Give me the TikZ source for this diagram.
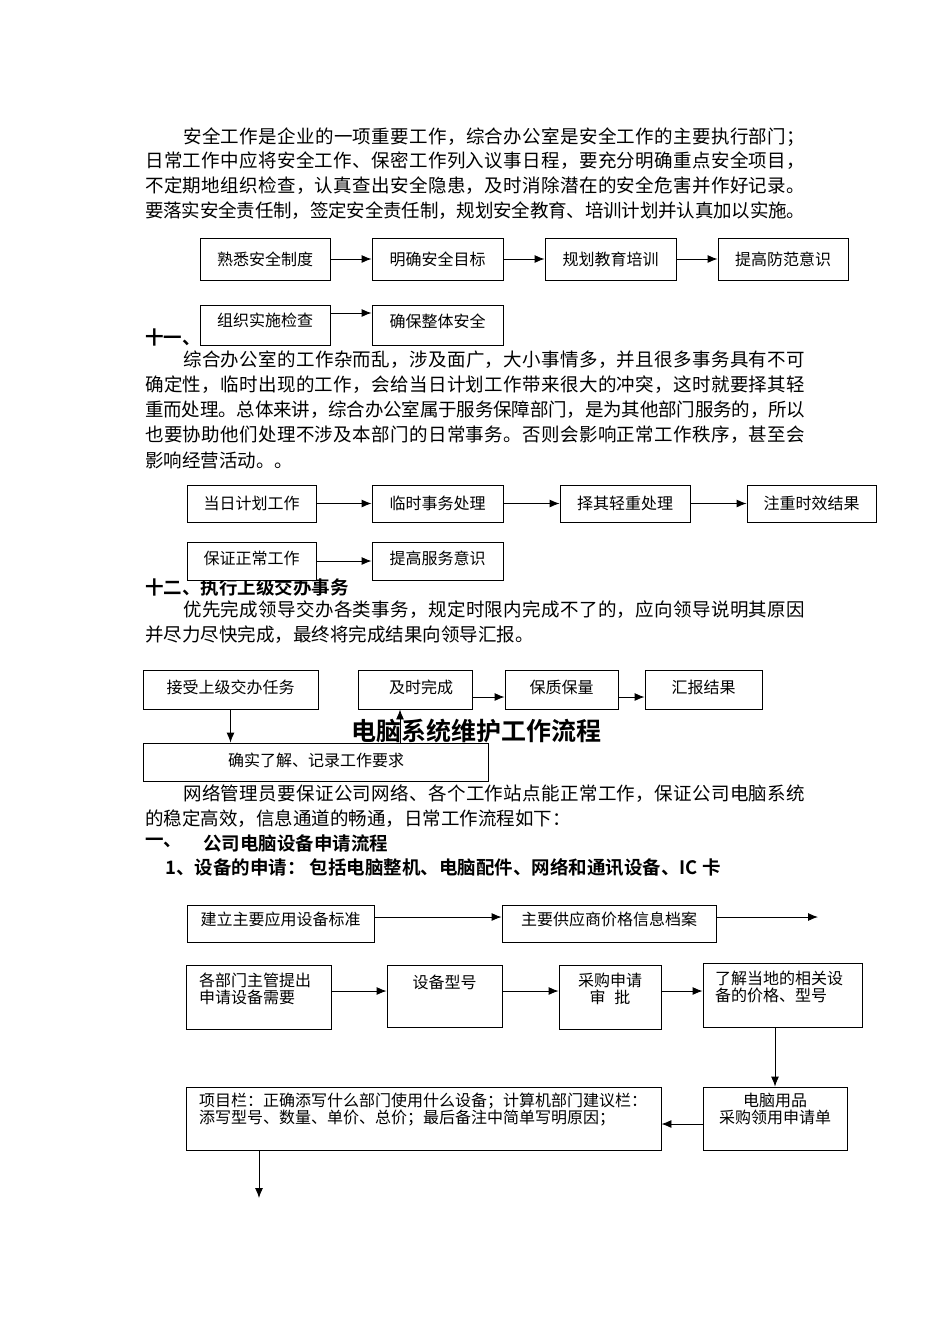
\documentclass[tikz,border=0pt]{standalone}
\usepackage{fontspec}
\setmainfont{Noto Sans CJK SC}[BoldFont={Noto Sans CJK SC Bold}]
\usetikzlibrary{arrows.meta,calc}
\XeTeXinterchartokenstate=1
\newXeTeXintercharclass\cjkcls
\count255="3000
\loop\XeTeXcharclass\count255=\cjkcls\ifnum\count255<"303F\advance\count255 1\repeat
\count255="4E00
\loop\XeTeXcharclass\count255=\cjkcls\ifnum\count255<"9FFF\advance\count255 1\repeat
\count255="FF00
\loop\XeTeXcharclass\count255=\cjkcls\ifnum\count255<"FF5E\advance\count255 1\repeat
\XeTeXinterchartoks\cjkcls\cjkcls={\hskip0pt plus 2pt minus 1.5pt}
\newcommand\jfirst[1]{\hbox to 622pt{#1}}
\newcommand\jfull[1]{\hbox to 660pt{#1}}
\tikzset{
  box/.style={draw, line width=0.9pt, fill=white, inner sep=0pt, align=center,
    font=\fontsize{16}{17}\selectfont},
  para/.style={anchor=west, inner sep=0pt, font=\fontsize{18.5}{20}\selectfont},
  head/.style={anchor=west, inner sep=0pt, font=\fontsize{18.5}{20}\selectfont\bfseries},
  lbl/.style={inner sep=0pt, font=\fontsize{16}{16.5}\selectfont},
  arr/.style={-{Latex[length=10pt,width=8pt]}, line width=0.9pt}
}
\begin{document}
\begin{tikzpicture}[x=1pt,y=-1pt]
\fill[white] (0,0) rectangle (950,1344);
\useasboundingbox (0,0) rectangle (950,1344);

% paragraph 1
\node[para] (p1a) at (183,137) {\jfirst{安全工作是企业的一项重要工作，综合办公室是安全工作的主要执行部门；}};
\node[para] (p1b) at (145,161) {\jfull{日常工作中应将安全工作、保密工作列入议事日程，要充分明确重点安全项目，}};
\node[para] (p1c) at (145,186) {\jfull{不定期地组织检查，认真查出安全隐患，及时消除潜在的安全危害并作好记录。}};
\node[para] (p1d) at (145,211) {\jfull{要落实安全责任制，签定安全责任制，规划安全教育、培训计划并认真加以实施。}};

% flow 1
\node[box, minimum width=130pt, minimum height=42pt] (f1a) at (265,259) {熟悉安全制度};
\node[box, minimum width=131pt, minimum height=42pt] (f1b) at (437.5,259) {明确安全目标};
\node[box, minimum width=131pt, minimum height=42pt] (f1c) at (610.5,259) {规划教育培训};
\node[box, minimum width=130pt, minimum height=42pt] (f1d) at (783,259) {提高防范意识};
\draw[arr] (f1a.east) -- (f1b.west);
\draw[arr] (f1b.east) -- (f1c.west);
\draw[arr] (f1c.east) -- (f1d.west);
\node[head] (h11) at (145,337) {十一、};
\node[box, minimum width=130pt, minimum height=40pt] (f1e) at (265,325) {};
\node[lbl] (f1et) at (265,320) {组织实施检查};
\node[box, minimum width=131pt, minimum height=40pt] (f1f) at (437.5,325) {};
\node[lbl] (f1ft) at (437.5,321) {确保整体安全};
\coordinate (y1f) at (0,313);
\draw[arr] (f1e.east |- y1f) -- (f1f.west |- y1f);

% paragraph 2
\node[para] (p2a) at (183,360) {\jfirst{综合办公室的工作杂而乱，涉及面广，大小事情多，并且很多事务具有不可}};
\node[para] (p2b) at (145,385) {\jfull{确定性，临时出现的工作，会给当日计划工作带来很大的冲突，这时就要择其轻}};
\node[para] (p2c) at (145,410) {\jfull{重而处理。总体来讲，综合办公室属于服务保障部门，是为其他部门服务的，所以}};
\node[para] (p2d) at (145,435) {\jfull{也要协助他们处理不涉及本部门的日常事务。否则会影响正常工作秩序，甚至会}};
\node[para] (p2e) at (145,460) {影响经营活动。。};

% flow 2
\node[box, minimum width=129pt, minimum height=37pt] (f2a) at (251.5,503.5) {当日计划工作};
\node[box, minimum width=131pt, minimum height=37pt] (f2b) at (437.5,503.5) {临时事务处理};
\node[box, minimum width=130pt, minimum height=37pt] (f2c) at (625,503.5) {择其轻重处理};
\node[box, minimum width=129pt, minimum height=37pt] (f2d) at (811.5,503.5) {注重时效结果};
\draw[arr] (f2a.east) -- (f2b.west);
\draw[arr] (f2b.east) -- (f2c.west);
\draw[arr] (f2c.east) -- (f2d.west);
\node[head] (h12) at (145,587) {十二、执行上级交办事务};
\node[box, minimum width=129pt, minimum height=38pt] (f2e) at (251.5,561) {};
\node[lbl] (f2et) at (251.5,558) {保证正常工作};
\node[box, minimum width=131pt, minimum height=38pt] (f2f) at (437.5,561) {};
\node[lbl] (f2ft) at (437.5,558) {提高服务意识};
\draw[arr] (f2e.east) -- (f2f.west);

% paragraph 3
\node[para] (p3a) at (183,610) {\jfirst{优先完成领导交办各类事务，规定时限内完成不了的，应向领导说明其原因}};
\node[para] (p3b) at (145,635) {并尽力尽快完成，最终将完成结果向领导汇报。};

% flow 3
\node[box, minimum width=175pt, minimum height=39pt] (f3a) at (230.5,689.5) {};
\node[lbl] (f3at) at (230.5,687) {接受上级交办任务};
\node[box, minimum width=114pt, minimum height=39pt] (f3b) at (415,689.5) {};
\node[lbl] (f3bt) at (421,687) {及时完成};
\node[box, minimum width=113pt, minimum height=39pt] (f3c) at (561.5,689.5) {};
\node[lbl] (f3ct) at (561.5,687) {保质保量};
\node[box, minimum width=117pt, minimum height=39pt] (f3d) at (703.5,689.5) {};
\node[lbl] (f3dt) at (703.5,687) {汇报结果};
\coordinate (y3) at (0,697);
\draw[arr] (f3b.east |- y3) -- (f3c.west |- y3);
\draw[arr] (f3c.east |- y3) -- (f3d.west |- y3);
\node[box, minimum width=345pt, minimum height=38pt] (f3e) at (315.5,762) {};
\node[lbl] (f3et) at (316,760) {确实了解、记录工作要求};
\draw[arr] (f3a.south) -- (f3e.north -| f3a.south);
\coordinate (x3) at (400,0);
\draw[arr] (f3e.north -| x3) -- (f3b.south -| x3);
\node[inner sep=0pt, font=\fontsize{25}{26}\selectfont\bfseries] (title) at (476,731) {电脑系统维护工作流程};

% paragraph 4
\node[para] (p4a) at (183,794) {\jfirst{网络管理员要保证公司网络、各个工作站点能正常工作，保证公司电脑系统}};
\node[para] (p4b) at (145,819) {的稳定高效，信息通道的畅通，日常工作流程如下：};
\node[head] (h1) at (145,843) {一、};
\node[head] (h1b) at (203,843) {公司电脑设备申请流程};
\node[head] (h2) at (165,867) {1、设备的申请：\hspace{4pt}包括电脑整机、电脑配件、网络和通讯设备、IC 卡};

% flow 4
\node[box, minimum width=187pt, minimum height=37pt] (f4a) at (280.5,923.5) {};
\node[lbl] (f4at) at (280.5,919) {建立主要应用设备标准};
\node[box, minimum width=214pt, minimum height=37pt] (f4b) at (609,923.5) {};
\node[lbl] (f4bt) at (609,919) {主要供应商价格信息档案};
\coordinate (y4a) at (0,917);
\coordinate (endA) at (818,917);
\draw[arr] (f4a.east |- y4a) -- (f4b.west |- y4a);
\draw[arr] (f4b.east |- y4a) -- (endA);

\node[box, minimum width=145pt, minimum height=64pt] (f4c) at (258.5,997) {};
\node[lbl, anchor=north west, align=left] (f4ct) at (199,973) {各部门主管提出\\申请设备需要};
\node[box, minimum width=115pt, minimum height=62pt] (f4d) at (444.5,996) {};
\node[lbl] (f4dt) at (444.5,982) {设备型号};
\node[box, minimum width=102pt, minimum height=64pt] (f4e) at (610,997) {};
\node[lbl, anchor=north, align=center] (f4et) at (610,973) {采购申请\\审\hspace{9pt}批};
\node[box, minimum width=159pt, minimum height=64pt] (f4f) at (782.5,995) {};
\node[lbl, anchor=north west, align=left] (f4ft) at (715,971) {了解当地的相关设\\备的价格、型号};
\coordinate (y4b) at (0,991);
\draw[arr] (f4c.east |- y4b) -- (f4d.west |- y4b);
\draw[arr] (f4d.east |- y4b) -- (f4e.west |- y4b);
\draw[arr] (f4e.east |- y4b) -- (f4f.west |- y4b);

\node[box, minimum width=144pt, minimum height=63pt] (f4g) at (775,1118.5) {};
\node[lbl, anchor=north, align=center] (f4gt) at (775,1093) {电脑用品\\采购领用申请单};
\coordinate (x4) at (775,0);
\draw[arr] (f4f.south -| x4) -- (f4g.north -| x4);
\node[box, minimum width=475pt, minimum height=63pt] (f4h) at (423.5,1118.5) {};
\node[lbl, anchor=north west, align=left] (f4ht) at (199,1093) {项目栏：正确添写什么部门使用什么设备；计算机部门建议栏：\\添写型号、数量、单价、总价；最后备注中简单写明原因；};
\coordinate (y4c) at (0,1124);
\draw[arr] (f4g.west |- y4c) -- (f4h.east |- y4c);
\coordinate (endB) at (259,1198);
\draw[arr] (f4h.south -| endB) -- (endB);
\end{tikzpicture}
\end{document}
